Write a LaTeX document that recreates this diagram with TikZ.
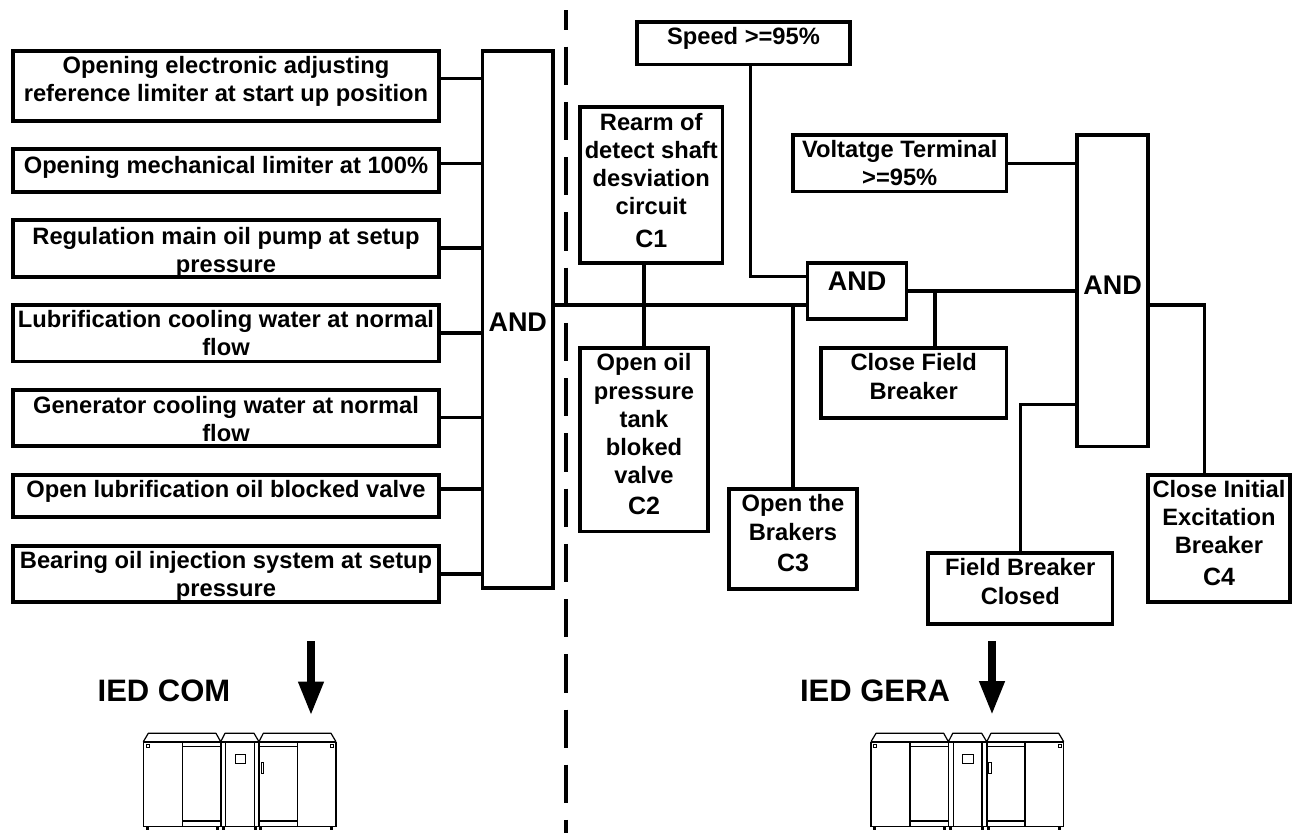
\documentclass[tikz,border=0pt]{standalone}
\usepackage{fontspec}
\setmainfont{Liberation Sans}[BoldFont={Liberation Sans Bold}]
\usetikzlibrary{arrows.meta}
\newcommand{\bodyf}{\fontsize{23.7}{28.3}\selectfont\bfseries}
\newcommand{\cf}[1]{{\fontsize{25}{28.3}\selectfont\bfseries #1}}
\newcommand{\bx}[8][boxst]{%
  \pgfmathsetmacro{\cxx}{(#3+#5)/2}%
  \pgfmathsetmacro{\cyy}{(#4+#6)/2}%
  \pgfmathsetmacro{\www}{#5-#3}%
  \pgfmathsetmacro{\hhh}{#6-#4}%
  \node[#1] (#2) at (\cxx,\cyy) {\parbox[c][\hhh pt][t]{\www pt}{\centering\rule{0pt}{#7pt}#8}};%
}
\tikzset{
  boxst/.style={draw=black,line width=3.9pt,inner sep=0pt,outer sep=0pt,font=\bodyf,miter limit=10},
  andst/.style={boxst,font=\fontsize{27}{30}\selectfont\bfseries},
  wire/.style={draw=black,line width=3.5pt},
  divider/.style={draw=black,line width=3.8pt,dash pattern=on 38.3pt off 16.93pt,dash phase=18.5pt},
  bigarrow/.style={draw=black,line width=8.6pt,-{Triangle[width=23.4pt,length=34.5pt]}},
  iedlabel/.style={inner sep=0pt,font=\fontsize{31}{34}\selectfont\bfseries,anchor=base},
  thin line/.style={draw=black,line width=0.8pt},
  mid line/.style={draw=black,line width=1.2pt},
  thick line/.style={draw=black,line width=1.8pt},
  cabinet/.pic={
    \draw[mid line,line join=round] (143.3,741.7) -- (148.3,733.3) -- (216,733.3) -- (220.7,741.7)
      -- (225,733.3) -- (254,733.3) -- (259,741.7) -- (263.3,733.3) -- (331,733.3) -- (336,741.7);
    \draw[thick line] (143.3,741.7) -- (336,741.7);
    \draw[mid line] (143.3,741.7) -- (143.3,826.7) -- (336,826.7) -- (336,741.7);
    \draw[mid line] (182.3,741.7) -- (182.3,826.7);
    \draw[thick line] (220.7,741.7) -- (220.7,826.7);
    \draw[mid line] (225.7,741.7) -- (225.7,826.7);
    \draw[mid line] (254.3,741.7) -- (254.3,826.7);
    \draw[thick line] (259,741.7) -- (259,826.7);
    \draw[mid line] (297.3,741.7) -- (297.3,826.7);
    \draw[mid line] (182.3,746.7) -- (220.7,746.7);
    \draw[mid line] (259,746.7) -- (297.3,746.7);
    \draw[mid line] (182.3,821) -- (220.7,821);
    \draw[mid line] (259,821) -- (297.3,821);
    \draw[thin line] (235,754.3) rectangle (245.3,763.3);
    \draw[thin line] (261,762.3) rectangle (263.7,773.7);
    \draw[thin line] (146,744) rectangle (149,747);
    \draw[thin line] (330.5,744) rectangle (333.5,747);
    \foreach \fx in {147,217,223,255,260.7,331.7}
      \fill[black] (\fx-1.5,826.7) rectangle (\fx+1.5,830);
  }
}
\begin{document}
\begin{tikzpicture}[x=1pt,y=-1pt]
\useasboundingbox (0,0) rectangle (1293,833);

% left inputs
\bx{b1}{12.7}{51}{439.3}{120.7}{22.5}{Opening electronic adjusting\\reference limiter at start up position}
\bx{b2}{12.7}{149.3}{439.3}{192}{24}{Opening mechanical limiter at 100\%}
\bx{b3}{12.7}{220}{439.3}{276.7}{24}{Regulation main oil pump at setup\\pressure}
\bx{b4}{12.7}{305}{439.3}{361.5}{22.3}{Lubrification cooling water at normal\\flow}
\bx{b5}{12.7}{390}{439.3}{446}{23.3}{Generator cooling water at normal\\flow}
\bx{b6}{12.7}{475}{439.3}{517}{22.7}{Open lubrification oil blocked valve}
\bx{b7}{12.7}{546}{439.3}{602}{22.3}{Bearing oil injection system at setup\\pressure}
\bx[andst]{and1}{482.5}{51}{553}{588}{280.7}{AND}

% centre
\bx{speed}{637}{22}{850}{64.5}{22.3}{Speed >=95\%}
\bx{c1}{580}{107}{722.5}{263}{23}{Rearm of\\detect shaft\\desviation\\circuit\\[4pt]\cf{C1}}
\bx{c2}{580}{348}{708}{531.5}{22.7}{Open oil\\pressure\\tank\\bloked\\valve\\[2pt]\cf{C2}}
\bx{c3}{729}{489.3}{857}{589}{22.4}{Open the\\Brakers\\[3.5pt]\cf{C3}}
\bx[andst]{and2}{807.5}{263}{906.5}{319}{27}{AND}

% right
\bx{volt}{793}{135}{1006.5}{191.5}{22.3}{Voltatge Terminal\\>=95\%}
\bx{close}{821}{348}{1006.5}{418}{22.7}{Close Field\\Breaker}
\bx[andst]{and3}{1077}{135}{1148}{446.5}{159}{AND}
\bx{fbc}{928}{553}{1112.5}{624}{22.7}{Field Breaker\\Closed}
\bx{c4}{1148}{475.3}{1290}{602}{22}{Close Initial\\Excitation\\Breaker\\[3.5pt]\cf{C4}}

% routing points
\coordinate (s1) at (0,78.3);
\coordinate (s2) at (0,163.3);
\coordinate (s3) at (0,248);
\coordinate (s4) at (0,333);
\coordinate (s5) at (0,417.7);
\coordinate (s6) at (0,489);
\coordinate (s7) at (0,574);
\coordinate (main) at (0,305);
\coordinate (sj) at (750.7,276.7);
\coordinate (cfj) at (935,291);
\coordinate (oj) at (1204.3,305);
\coordinate (fj) at (1020.25,404.3);
\coordinate (vj) at (0,163.3);

\draw[wire] (b1.east |- s1) -- (and1.west |- s1);
\draw[wire] (b2.east |- s2) -- (and1.west |- s2);
\draw[wire] (b3.east |- s3) -- (and1.west |- s3);
\draw[wire] (b4.east |- s4) -- (and1.west |- s4);
\draw[wire] (b5.east |- s5) -- (and1.west |- s5);
\draw[wire] (b6.east |- s6) -- (and1.west |- s6);
\draw[wire] (b7.east |- s7) -- (and1.west |- s7);
\draw[wire] (and1.east |- main) -- (and2.west |- main);
\draw[wire] (c2.north |- c1.south) -- (c2.north);
\draw[wire] (c3.north |- main) -- (c3.north);
\draw[wire] (sj |- speed.south) -- (sj) -- (sj -| and2.west);
\draw[wire] (and2.east |- cfj) -- (and3.west |- cfj);
\draw[wire] (cfj) -- (cfj |- close.north);
\draw[wire] (volt.east |- vj) -- (and3.west |- vj);
\draw[wire] (and3.east |- oj) -- (oj) -- (oj |- c4.north);
\draw[wire] (and3.west |- fj) -- (fj) -- (fbc.north);

% divider
\coordinate (dtop) at (566,10);
\coordinate (dbot) at (566,833);
\draw[divider] (dtop) -- (dbot);

% arrows
\coordinate (a1s) at (311,641);
\coordinate (a1e) at (311,716);
\coordinate (a2s) at (992,641);
\coordinate (a2e) at (992,715.5);
\draw[bigarrow] (a1s) -- (a1e);
\draw[bigarrow] (a2s) -- (a2e);

% labels
\node[iedlabel] (iedcom) at (164,701) {IED COM};
\node[iedlabel] (iedgera) at (875,701) {IED GERA};

% cabinets
\pic (cabA) at (0,0) {cabinet};
\pic (cabB) at (727.7,0) {cabinet};
\end{tikzpicture}
\end{document}
